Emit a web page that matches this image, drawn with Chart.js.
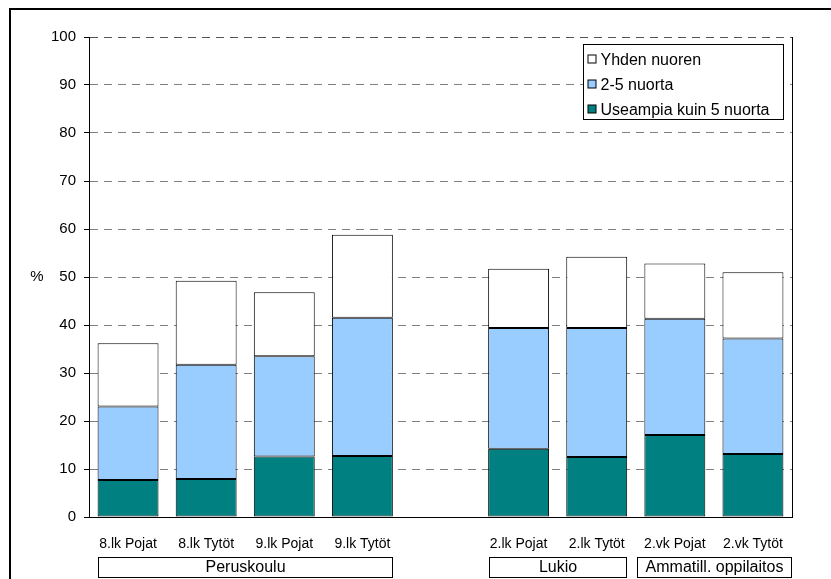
<!DOCTYPE html>
<html>
<head>
<meta charset="utf-8">
<script src="https://cdn.jsdelivr.net/npm/chart.js@4.4.0/dist/chart.umd.min.js"></script>
<style>
  html, body { margin: 0; padding: 0; background: #fff; }
  canvas { display: block; }
</style>
</head>
<body>
<canvas id="chart" width="831" height="579"></canvas>
<script>
// Categories (empty slot separates the school types)
const categories = ['8.lk Pojat', '8.lk Tytöt', '9.lk Pojat', '9.lk Tytöt', '',
                    '2.lk Pojat', '2.lk Tytöt', '2.vk Pojat', '2.vk Tytöt'];

// Stacked segment values (%)
const useampia = [7.7, 7.9, 12.6, 12.7, null, 14.2, 12.5, 17.1, 13.1];
const kahdestaViiteen = [15.3, 23.8, 20.9, 28.8, null, 25.2, 26.9, 24.2, 24.1];
const yhden = [13.2, 17.5, 13.3, 17.3, null, 12.3, 14.8, 11.5, 13.8];

const seriesNames = ['Useampia kuin 5 nuorta', '2-5 nuorta', 'Yhden nuoren'];
const seriesColors = ['#008080', '#99CCFF', '#FFFFFF'];

// Group boxes under the category labels
const groupNames = ['Peruskoulu', 'Lukio', 'Ammatill. oppilaitos'];
const groupFirst = [0, 5, 7];
const groupLast = [3, 6, 8];

const FONT = '"Liberation Sans", Arial, sans-serif';

// Frame, right border, "%" label, legend and group boxes
const extras = {
    id: 'extras',
    afterDraw(chart) {
        const c = chart.ctx;
        const area = chart.chartArea;
        const x = chart.scales.x;
        const y = chart.scales.y;
        c.save();

        // outer frame
        c.strokeStyle = '#000';
        c.lineWidth = 2;
        c.strokeRect(10, 9, 840, 600);

        // right border of the plot
        c.lineWidth = 1;
        c.beginPath();
        c.moveTo(Math.round(area.right) + 0.5, area.top);
        c.lineTo(Math.round(area.right) + 0.5, area.bottom);
        c.stroke();

        // "%" axis label
        c.fillStyle = '#000';
        c.font = '15px ' + FONT;
        c.textAlign = 'center';
        c.textBaseline = 'middle';
        c.fillText('%', 37, y.getPixelForValue(50));

        // legend
        const lx = 583.5, ly = 44.5, lw = 200, lh = 75;
        c.fillStyle = '#fff';
        c.fillRect(lx, ly, lw, lh);
        c.strokeStyle = '#000';
        c.strokeRect(lx, ly, lw, lh);
        c.font = '16px ' + FONT;
        c.textAlign = 'left';
        const ds = chart.data.datasets;
        for (let i = 0; i < ds.length; i++) {
            const d = ds[ds.length - 1 - i];
            const cy = ly + 15 + i * 25;
            c.fillStyle = d.backgroundColor;
            c.fillRect(lx + 4.5, cy - 4.5, 8, 8);
            c.strokeStyle = '#000';
            c.strokeRect(lx + 4.5, cy - 4.5, 8, 8);
            c.fillStyle = '#000';
            c.fillText(d.label, lx + 17, cy + 1);
        }

        // group boxes
        const slot = x.getPixelForValue(1) - x.getPixelForValue(0);
        c.font = '16px ' + FONT;
        c.textAlign = 'center';
        for (let g = 0; g < groupNames.length; g++) {
            let left = x.getPixelForValue(groupFirst[g]) - 0.38 * slot;
            let right = x.getPixelForValue(groupLast[g]) + 0.38 * slot;
            const tw = c.measureText(groupNames[g]).width + 16;
            if (right - left < tw) {
                const mid = (left + right) / 2;
                left = mid - tw / 2;
                right = mid + tw / 2;
            }
            left = Math.round(left) + 0.5;
            right = Math.round(right) + 0.5;
            c.strokeStyle = '#000';
            c.strokeRect(left, 557.5, right - left, 20);
            c.fillStyle = '#000';
            c.fillText(groupNames[g], (left + right) / 2, 568);
        }
        c.restore();
    }
};

const datasets = [useampia, kahdestaViiteen, yhden].map((values, i) => ({
    label: seriesNames[i],
    data: values,
    backgroundColor: seriesColors[i],
    borderColor: '#000',
    borderWidth: 1,
    borderSkipped: false,
    barPercentage: 0.78,
    categoryPercentage: 1.0
}));

new Chart(document.getElementById('chart').getContext('2d'), {
    type: 'bar',
    data: { labels: categories, datasets: datasets },
    options: {
        responsive: false,
        animation: false,
        layout: { padding: { top: 37, right: 39, bottom: 0, left: 0 } },
        plugins: {
            legend: { display: false },
            tooltip: { enabled: false }
        },
        scales: {
            x: {
                stacked: true,
                grid: { display: false, drawTicks: false },
                border: { display: true, color: '#000', width: 1 },
                ticks: {
                    color: '#000',
                    font: { family: FONT, size: 14 },
                    padding: 19,
                    maxRotation: 0,
                    autoSkip: false
                },
                afterFit(scale) { scale.height = 62; }
            },
            y: {
                stacked: true,
                min: 0,
                max: 100,
                grid: {
                    color: ctx => ctx.tick && ctx.tick.value === 0 ? 'rgba(0,0,0,0)'
                        : (ctx.tick && ctx.tick.value === 100 ? '#555' : '#808080'),
                    tickColor: '#000',
                    tickLength: 5,
                    tickBorderDash: []
                },
                border: { display: true, color: '#000', width: 1, dash: [8, 6] },
                ticks: {
                    stepSize: 10,
                    color: '#000',
                    font: { family: FONT, size: 15 },
                    padding: 8
                },
                afterFit(scale) { scale.width = 89; }
            }
        }
    },
    plugins: [extras]
});
</script>
</body>
</html>
